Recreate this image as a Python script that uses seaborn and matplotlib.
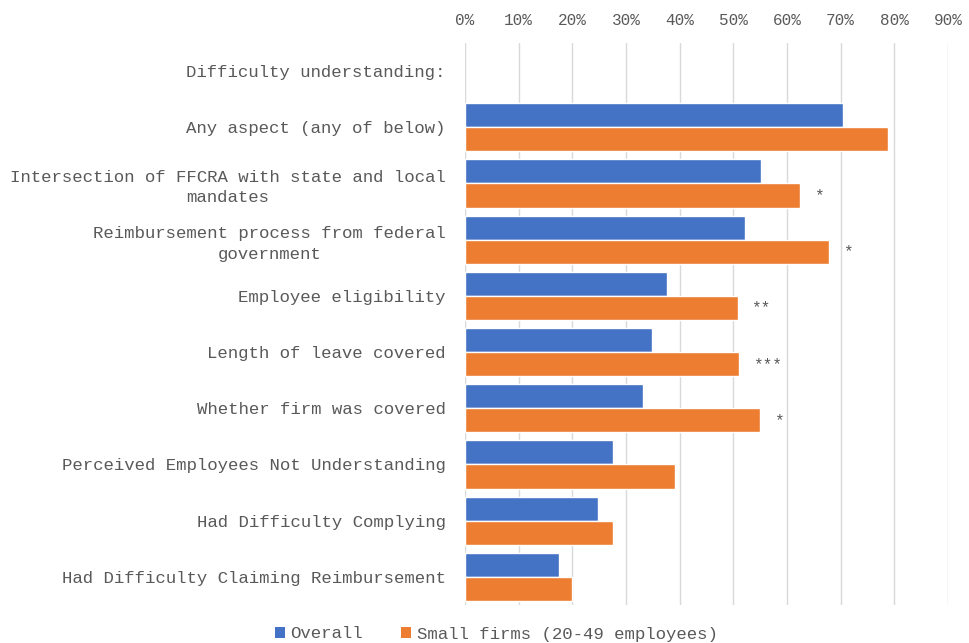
import matplotlib
matplotlib.use("Agg")
import matplotlib.pyplot as plt
import seaborn as sns
import pandas as pd
import numpy as np
from matplotlib.patches import Patch
from matplotlib.ticker import PercentFormatter

categories = [
    "Difficulty understanding:",
    "Any aspect (any of below)",
    "Intersection of FFCRA with state and local\nmandates",
    "Reimbursement process from federal\ngovernment",
    "Employee eligibility",
    "Length of leave covered",
    "Whether firm was covered",
    "Perceived Employees Not Understanding",
    "Had Difficulty Complying",
    "Had Difficulty Claiming Reimbursement",
]
overall = [np.nan, 70.5, 55.2, 52.2, 37.6, 34.9, 33.2, 27.6, 24.7, 17.6]
small_firms = [np.nan, 78.8, 62.4, 67.8, 50.8, 51.0, 55.0, 39.1, 27.5, 19.9]
stars = ["", "", "*", "*", "**", "***", "*", "", "", ""]
series_names = ["Overall", "Small firms (20-49 employees)"]
colors = ["#4472C4", "#ED7D31"]
xticks = list(range(0, 91, 10))

df = pd.DataFrame({
    "category": categories * 2,
    "value": overall + small_firms,
    "series": [series_names[0]] * len(categories) + [series_names[1]] * len(categories),
})

sns.set_theme(style="white")
plt.rcParams["font.family"] = ["Liberation Mono", "DejaVu Sans Mono"]
text_color = "#595959"

fig = plt.figure(figsize=(9.7, 6.43), dpi=100)
ax = fig.add_axes([465 / 970, 1 - 605 / 643, (948 - 465) / 970, (605 - 43) / 643])

sns.barplot(data=df, y="category", x="value", hue="series", order=categories,
            hue_order=series_names, palette=colors, orient="h", width=0.86,
            gap=0, ax=ax, legend=False, saturation=1, errorbar=None)

ax.set_xlim(0, 90)
ax.set_xticks(xticks)
ax.xaxis.set_major_formatter(PercentFormatter(decimals=0))
ax.xaxis.tick_top()
ax.tick_params(axis="x", length=0, pad=11, labelsize=11.5, labelcolor=text_color)
ax.tick_params(axis="y", length=0, pad=14, labelsize=12.5, labelcolor=text_color)
for lab in ax.get_yticklabels():
    lab.set_multialignment("center")
    lab.set_linespacing(1.45)
ax.grid(axis="x", color="#D9D9D9", linewidth=1)
ax.set_axisbelow(True)
for s in ax.spines.values():
    s.set_visible(False)
ax.set_xlabel("")
ax.set_ylabel("")

# star annotations at ends of the small-firm bars
orange_rgb = matplotlib.colors.to_rgb(colors[1])
orange_bars = [p for p in ax.patches if tuple(p.get_facecolor()[:3]) == orange_rgb]
orange_bars = sorted(orange_bars, key=lambda p: p.get_y())
idx = 0
for i, cat in enumerate(categories):
    if np.isnan(small_firms[i]):
        continue
    bar = orange_bars[idx]
    idx += 1
    if stars[i]:
        ax.annotate(stars[i], (small_firms[i], bar.get_y() + bar.get_height() / 2),
                    xytext=(10, 0), textcoords="offset points", va="center", ha="left",
                    fontsize=11.5, color=text_color)

handles = [Patch(facecolor=c, edgecolor="none") for c in colors]
fig.legend(handles, series_names, loc="center", bbox_to_anchor=(496 / 970, 1 - 634 / 643),
           ncol=2, frameon=False, handlelength=0.6, handleheight=0.6, handletextpad=0.3,
           columnspacing=2.2, fontsize=12.5, labelcolor=text_color)

fig.savefig("out.png", dpi=100)
